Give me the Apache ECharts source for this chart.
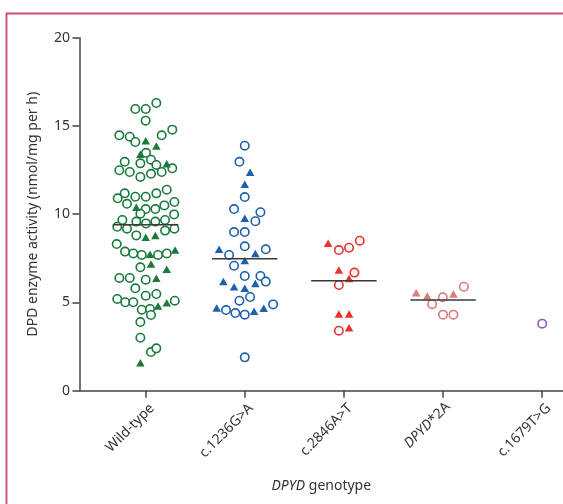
<!DOCTYPE html>
<html>
<head>
<meta charset="utf-8">
<script src="https://cdn.jsdelivr.net/npm/echarts@6/dist/echarts.min.js"></script>
<style>html,body{margin:0;padding:0;background:#fff;}#c{width:563px;height:504px;}</style>
</head>
<body>
<div id="c"></div>
<script>
// Categories (x positions 1..5)
const categories = ['Wild-type', 'c.1236G>A', 'c.2846A>T', 'DPYD*2A', 'c.1679T>G'];
const yTicks = [0, 5, 10, 15, 20];

// Each point: [horizontal jitter offset (category units), DPD activity]
const wildTypeCircles = [
  [-0.104,15.96],[0.001,15.96],[0.108,16.30],[0.000,15.30],[-0.265,14.47],[-0.160,14.39],
  [-0.104,14.09],[0.162,14.47],[0.269,14.79],[0.004,13.48],[-0.211,12.97],[-0.053,12.88],
  [0.054,13.09],[0.108,12.79],[0.269,12.60],[-0.265,12.49],[-0.160,12.39],[-0.053,12.11],
  [0.054,12.29],[0.162,12.39],[0.213,11.39],[0.108,11.18],[0.001,10.99],[-0.104,10.99],
  [-0.211,11.18],[-0.282,10.90],[-0.188,10.59],[0.290,10.69],[0.189,10.50],[0.098,10.29],
  [0.001,10.29],[-0.053,10.03],[0.287,9.99],[-0.235,9.67],[-0.094,9.58],[0.004,9.48],
  [0.098,9.58],[0.196,9.67],[-0.286,9.29],[-0.188,9.18],[0.196,9.07],[0.290,9.18],
  [-0.094,8.80],[-0.292,8.31],[-0.208,7.88],[-0.124,7.78],[-0.039,7.69],[0.125,7.69],
  [0.213,7.78],[-0.053,6.99],[-0.265,6.39],[-0.160,6.39],[0.001,6.29],[-0.104,5.80],
  [0.001,5.38],[0.108,5.48],[-0.286,5.20],[-0.205,5.01],[-0.124,5.01],[-0.039,4.59],
  [0.044,4.63],[0.294,5.10],[0.054,4.29],[-0.053,3.89],[-0.053,3.00],[0.054,2.19],[0.108,2.40]
];
const wildTypeTriangles = [
  [0.001,14.16],[0.108,13.86],[-0.053,13.39],[0.213,12.86],[-0.094,10.39],[0.001,8.69],
  [0.098,8.80],[0.044,7.73],[0.297,7.97],[0.054,7.18],[0.213,6.88],[0.108,6.37],
  [0.125,4.80],[0.213,4.99],[-0.053,1.59]
];
const c1236Circles = [
  [0.000,13.88],[-0.054,12.97],[0.000,10.97],[-0.108,10.29],[0.158,10.11],[0.107,9.60],
  [-0.108,8.99],[0.000,8.99],[0.000,8.18],[0.212,8.01],[-0.158,7.69],[-0.108,7.08],
  [0.000,6.50],[0.158,6.50],[0.212,6.18],[-0.054,5.10],[0.054,5.31],[-0.189,4.57],
  [-0.095,4.40],[0.000,4.31],[0.286,4.89],[0.000,1.89]
];
const c1236Triangles = [
  [0.054,12.37],[0.000,11.69],[0.000,9.77],[-0.259,8.01],[0.107,7.78],[0.000,7.37],
  [-0.216,6.18],[-0.108,5.89],[0.000,5.80],[0.107,6.08],[-0.283,4.69],[0.094,4.50],[0.191,4.67]
];
const c2846Circles = [
  [-0.051,7.97],[0.052,8.10],[0.160,8.50],[0.106,6.69],[-0.051,5.99],[-0.051,3.40]
];
const c2846Triangles = [
  [-0.159,8.35],[-0.051,6.84],[0.052,6.35],[-0.051,4.35],[0.052,4.35],[0.052,3.57]
];
const dpyd2aCircles = [
  [0.210,5.89],[-0.002,5.29],[-0.110,4.90],[0.000,4.31],[0.105,4.31]
];
const dpyd2aTriangles = [
  [-0.271,5.55],[-0.160,5.37],[0.105,5.48]
];
const c1679Circles = [
  [0.000,3.80]
];
const c1679Triangles = [];

// Group medians (horizontal bars)
const medians = [9.40, 7.48, 6.23, 5.14, null];

const colors = ['#1a7a3e', '#1d5fa9', '#e8322b', '#d97c7a', '#8d5bb7'];
const circleGroups = [wildTypeCircles, c1236Circles, c2846Circles, dpyd2aCircles, c1679Circles];
const triangleGroups = [wildTypeTriangles, c1236Triangles, c2846Triangles, dpyd2aTriangles, c1679Triangles];

const series = [];
categories.forEach((cat, i) => {
  const pos = i + 1;
  series.push({
    type: 'scatter', name: cat + ' circles',
    data: circleGroups[i].map(p => [pos + p[0], p[1]]),
    symbol: 'circle', symbolSize: 8.4,
    itemStyle: { color: '#fff', borderColor: colors[i], borderWidth: 1.6, opacity: 1 },
    z: 3, silent: true
  });
  series.push({
    type: 'scatter', name: cat + ' triangles',
    data: triangleGroups[i].map(p => [pos + p[0], p[1]]),
    symbol: 'triangle', symbolSize: [8.5, 7.5],
    itemStyle: { color: colors[i], opacity: 1 },
    z: 3, silent: true
  });
  if (medians[i] != null) {
    series.push({
      type: 'line', name: cat + ' median',
      data: [[pos - 0.33, medians[i]], [pos + 0.33, medians[i]]],
      symbol: 'none', silent: true,
      lineStyle: { color: '#3a3a3a', width: 1.6 },
      z: 5
    });
  }
});

const chart = echarts.init(document.getElementById('c'), null, { renderer: 'canvas' });
const fontFam = '"Noto Sans", "DejaVu Sans", sans-serif';
const FS = 14;
chart.setOption({
  animation: false,
  backgroundColor: '#fff',
  grid: { left: 79.5, right: 0, top: 37.7, bottom: 113.3, containLabel: false },
  xAxis: {
    type: 'value', min: 0.333, max: 5.21,
    splitLine: { show: false },
    axisLine: { show: true, onZero: false, lineStyle: { color: '#444', width: 1.5 } },
    axisTick: { show: true, customValues: [1, 2, 3, 4, 5], length: 7, lineStyle: { color: '#444', width: 1.5 } },
    axisLabel: {
      customValues: [1, 2, 3, 4, 5], rotate: 45, margin: 9,
      verticalAlign: 'top', lineHeight: 18,
      color: '#333', fontSize: FS, fontFamily: fontFam,
      formatter: v => {
        const c = categories[Math.round(v) - 1] || '';
        if (c.indexOf('DPYD') === 0) return '{i|DPYD}{n|' + c.slice(4) + '}';
        return c;
      },
      rich: {
        i: { fontStyle: 'italic', color: '#333', fontSize: FS, fontFamily: fontFam, lineHeight: 18, verticalAlign: 'top' },
        n: { color: '#333', fontSize: FS, fontFamily: fontFam, lineHeight: 18, verticalAlign: 'top' }
      }
    },
    name: '{i|DPYD} genotype', nameLocation: 'middle', nameGap: 88,
    nameTextStyle: {
      color: '#333', fontSize: FS, fontFamily: fontFam,
      rich: { i: { fontStyle: 'italic', color: '#333', fontSize: FS, fontFamily: fontFam } }
    }
  },
  yAxis: {
    type: 'value', min: 0, max: 20, interval: 5,
    splitLine: { show: false },
    axisLine: { show: true, lineStyle: { color: '#444', width: 1.5 } },
    axisTick: { show: true, length: 7, lineStyle: { color: '#444', width: 1.5 } },
    axisLabel: { color: '#333', fontSize: FS, fontFamily: fontFam, margin: 9.5,
      formatter: v => yTicks.indexOf(v) >= 0 ? String(v) : '' },
    name: 'DPD enzyme activity (nmol/mg per h)', nameLocation: 'middle', nameGap: 39,
    nameTextStyle: { color: '#333', fontSize: FS, fontFamily: fontFam }
  },
  graphic: [{
    type: 'rect', silent: true, z: 0,
    shape: { x: 6.5, y: 13.5, width: 700, height: 700 },
    style: { fill: 'none', stroke: '#cf4a70', lineWidth: 1.8 }
  }],
  series: series
});
</script>
</body>
</html>
